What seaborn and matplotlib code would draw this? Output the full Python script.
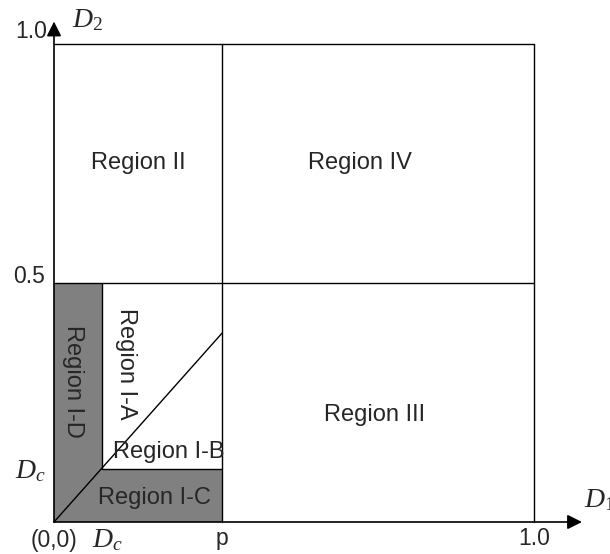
import matplotlib
matplotlib.use("Agg")
import matplotlib.pyplot as plt
import seaborn as sns
import pandas as pd

# thresholds (fractions of unit axes)
p = 0.35
dc_x = 0.10
dc_y = 0.11
mid = 0.5
diag_end = [0.35, 0.395]

region_names = ["Region II", "Region IV", "Region III", "Region I-C", "Region I-B", "Region I-A", "Region I-D"]
region_pos = [(0.175, 0.751), (0.638, 0.751), (0.667, 0.224), (0.21, 0.05), (0.24, 0.146), (0.15, 0.33), (0.04, 0.295)]
region_rot = [0, 0, 0, 0, 0, -90, -90]

sns.set_style("white")
plt.rcParams["font.family"] = ["Liberation Sans", "DejaVu Sans"]
plt.rcParams["mathtext.fontset"] = "custom"
plt.rcParams["mathtext.rm"] = "Liberation Serif"
plt.rcParams["mathtext.it"] = "Liberation Serif:italic"

fig = plt.figure(figsize=(6.1, 5.54), dpi=100)
ax = fig.add_axes([0, 0, 1, 1])
ax.set_xlim(-54 / 480, 556 / 480)
ax.set_ylim(-32 / 478, 522 / 478)
ax.axis("off")

gray = "#808080"
ax.fill_between([0, dc_x], 0, mid, color=gray, lw=0)
ax.fill_between([dc_x, p], 0, dc_y, color=gray, lw=0)

lw = 1.0
# frame lines
ax.plot([0, 1], [1, 1], color="black", lw=lw)
ax.plot([1, 1], [0, 1], color="black", lw=lw)
ax.plot([0, 1], [mid, mid], color="black", lw=lw)
ax.plot([p, p], [0, 1], color="black", lw=lw)
ax.plot([dc_x, dc_x], [dc_y, mid], color="black", lw=lw)
ax.plot([dc_x, p], [dc_y, dc_y], color="black", lw=lw)

diag = pd.DataFrame({"x": [0, diag_end[0]], "y": [0, diag_end[1]]})
sns.lineplot(data=diag, x="x", y="y", ax=ax, color="black", lw=lw)

# axes arrows
arrow = dict(arrowstyle="-|>", color="black", lw=1.2, mutation_scale=22, shrinkA=0, shrinkB=0)
ax.annotate("", xy=(1.1, 0), xytext=(0, 0), arrowprops=arrow)
ax.annotate("", xy=(0, 1.047), xytext=(0, 0), arrowprops=arrow)

fs = 17
for name, (x, y), r in zip(region_names, region_pos, region_rot):
    ax.text(x, y, name, fontsize=fs, rotation=r, ha="center", va="center")

tfs = 16.5
mfs = 20
ax.text(-0.015, 1.013, "1.0", fontsize=tfs, ha="right", va="baseline")
ax.text(0.0375, 1.036, "$D_2$", fontsize=mfs, ha="left", va="baseline")
ax.text(-0.019, 0.5, "0.5", fontsize=tfs, ha="right", va="baseline")
ax.text(-0.017, 0.092, "$D_c$", fontsize=mfs, ha="right", va="baseline")
ax.text(0.0, -0.052, "(0,0)", fontsize=tfs, ha="center", va="baseline")
ax.text(0.079, -0.052, "$D_c$", fontsize=mfs, ha="left", va="baseline")
ax.text(p, -0.049, "p", fontsize=tfs, ha="center", va="baseline")
ax.text(1.0, -0.048, "1.0", fontsize=tfs, ha="center", va="baseline")
ax.text(1.105, 0.031, "$D_1$", fontsize=mfs, ha="left", va="baseline")

fig.savefig("out.png", dpi=100)
